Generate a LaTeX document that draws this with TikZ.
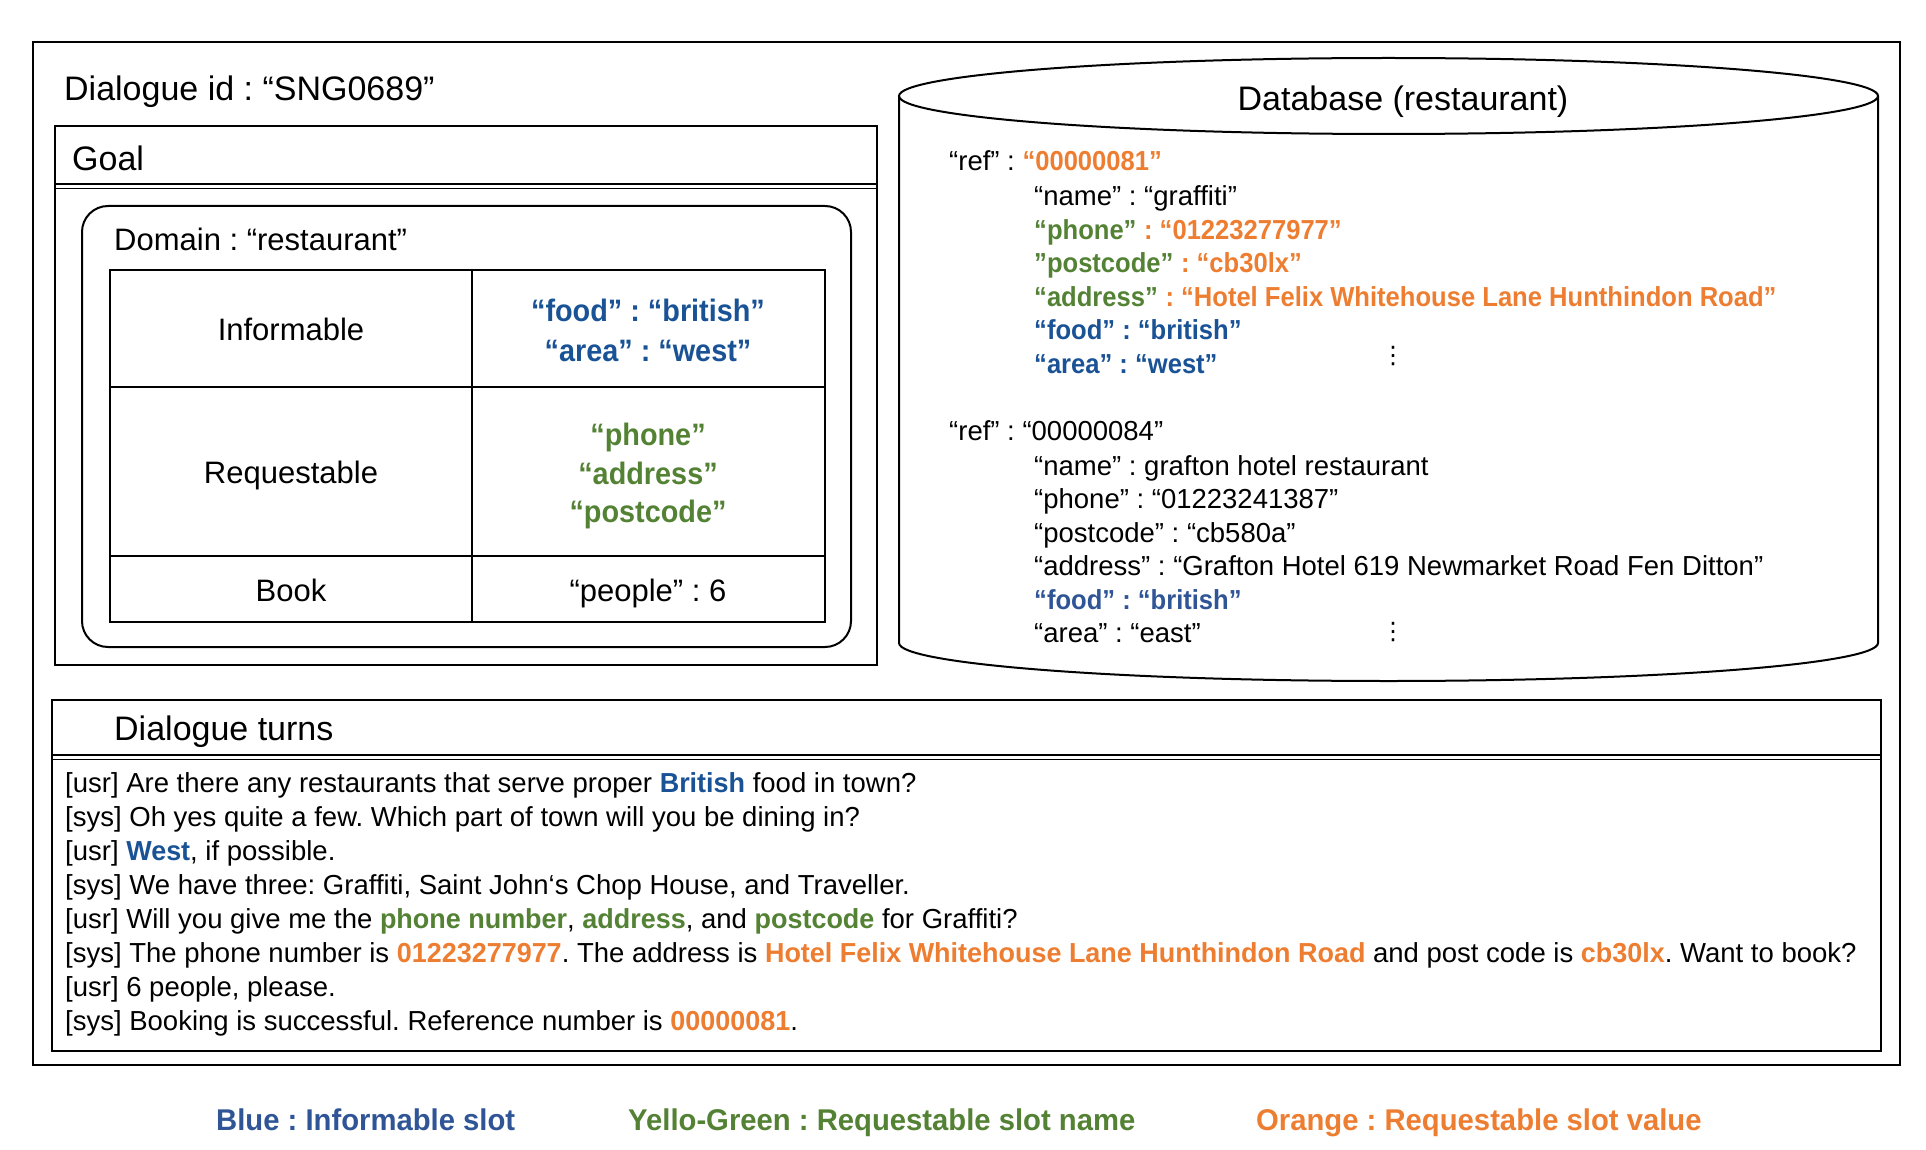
\documentclass[tikz,border=0pt]{standalone}
\usepackage{fontspec}
\setmainfont{Liberation Sans}[BoldFeatures={FakeStretch=0.93}]
\newfontfamily\turnfont{Liberation Sans}[FakeStretch=0.98]
\newfontfamily\legendfont{Liberation Sans}[FakeStretch=0.975]
\newfontfamily\dejavu{DejaVu Sans}
\definecolor{iblue}{HTML}{1A5296}
\definecolor{iblueb}{HTML}{2F5597}
\definecolor{rgreen}{HTML}{548235}
\definecolor{rorange}{HTML}{ED7D31}
\newcommand{\IB}[1]{\textcolor{iblue}{\textbf{#1}}}
\newcommand{\IBB}[1]{\textcolor{iblueb}{\textbf{#1}}}
\newcommand{\RG}[1]{\textcolor{rgreen}{\textbf{#1}}}
\newcommand{\RO}[1]{\textcolor{rorange}{\textbf{#1}}}
\newcommand{\TB}[1]{\textcolor{iblue}{\turnfont\bfseries #1}}
\newcommand{\TG}[1]{\textcolor{rgreen}{\turnfont\bfseries #1}}
\newcommand{\TO}[1]{\textcolor{rorange}{\turnfont\bfseries #1}}
\frenchspacing
\begin{document}
\begin{tikzpicture}[x=1pt,y=-1pt,
  frame/.style={draw, line width=2pt},
  thin/.style={draw, line width=1.6pt},
  big/.style={inner sep=0pt, anchor=west, text height=24pt, text depth=0pt, font=\fontsize{34}{40}\selectfont},
  mid/.style={inner sep=0pt, text height=22pt, text depth=0pt, font=\fontsize{31}{38}\selectfont},
  body/.style={inner sep=0pt, anchor=west, text height=19.5pt, text depth=0pt, font=\fontsize{27.5}{34}\selectfont},
  legend/.style={inner sep=0pt, anchor=west, text height=21.5pt, text depth=0pt, font=\legendfont\fontsize{30}{36}\selectfont\bfseries},
  dots/.style={inner sep=0pt, font=\dejavu\fontsize{24}{28}\selectfont}]
\useasboundingbox (0,0) rectangle (1926,1150);

% outer frame
\path[frame] (33,42) rectangle (1900,1065);

\node[big] (dlgid) at (64,89) {Dialogue id : “SNG0689”};

% Goal box
\path[frame] (55,126) rectangle (877,665);
\path[thin] (55,184) -- (877,184) (55,188.5) -- (877,188.5);
\node[big] (goal) at (72,159) {Goal};
\path[frame, rounded corners=26pt] (82,206) rectangle (851,647);
\node[mid, anchor=west] (domain) at (114,240) {Domain : “restaurant”};

% table
\path[frame] (110,270) rectangle (825,622);
\path[frame] (472,270) -- (472,622);
\path[frame] (110,387) -- (825,387) (110,556) -- (825,556);
\node[mid] (inf) at (291,329) {Informable};
\node[mid] (inf1) at (648,310) {\IB{“food” : “british”}};
\node[mid] (inf2) at (648,350) {\IB{“area” : “west”}};
\node[mid] (req) at (291,472) {Requestable};
\node[mid] (req1) at (648,434) {\RG{“phone”}};
\node[mid] (req2) at (648,473) {\RG{“address”}};
\node[mid] (req3) at (648,511) {\RG{“postcode”}};
\node[mid] (book) at (291,590) {Book};
\node[mid] (book1) at (648,590) {“people” : 6};

% database cylinder
\path[frame] (1388.5,96) ellipse [x radius=489.5pt, y radius=38pt];
\path[frame] (899,96) -- (899,643) arc[start angle=180, end angle=360, x radius=489.5pt, y radius=38pt] -- (1878,96);
\node[big, anchor=center] (dbtitle) at (1403,99) {Database (restaurant)};

\node[body] (r1) at (949,161) {“ref” : \RO{“00000081”}};
\node[body] (r1a) at (1034,196) {“name” : “graffiti”};
\node[body] (r1b) at (1034,230) {\RG{“phone”} \RO{: “01223277977”}};
\node[body] (r1c) at (1034,263) {\RG{”postcode”} \RO{: “cb30lx”}};
\node[body] (r1d) at (1034,297) {\RG{“address”} \RO{: “Hotel Felix Whitehouse Lane Hunthindon Road”}};
\node[body] (r1e) at (1034,330) {\IB{“food” : “british”}};
\node[body] (r1f) at (1034,364) {\IB{“area” : “west”}};
\node[dots] (d1) at (1393,356) {⋮};

\node[body] (r2) at (949,431) {“ref” : “00000084”};
\node[body] (r2a) at (1034,466) {“name” : grafton hotel restaurant};
\node[body] (r2b) at (1034,499) {“phone” : “01223241387”};
\node[body] (r2c) at (1034,533) {“postcode” : “cb580a”};
\node[body] (r2d) at (1034,566) {“address” : “Grafton Hotel 619 Newmarket Road Fen Ditton”};
\node[body] (r2e) at (1034,600) {\IBB{“food” : “british”}};
\node[body] (r2f) at (1034,633) {“area” : “east”};
\node[dots] (d2) at (1393,632) {⋮};

% Dialogue turns box
\path[frame] (52,700) rectangle (1881,1051);
\path[thin] (52,755) -- (1881,755) (52,759.5) -- (1881,759.5);
\node[big] (turns) at (114,728) {Dialogue turns};

\node[body] (t1) at (65,783) {[usr] Are there any restaurants that serve proper \TB{British} food in town?};
\node[body] (t2) at (65,817) {[sys] Oh yes quite a few. Which part of town will you be dining in?};
\node[body] (t3) at (65,851) {[usr] \TB{West}, if possible.};
\node[body] (t4) at (65,885) {[sys] We have three: Graffiti, Saint John‘s Chop House, and Traveller.};
\node[body] (t5) at (65,919) {[usr] Will you give me the \TG{phone number}, \TG{address}, and \TG{postcode} for Graffiti?};
\node[body] (t6) at (65,953) {[sys] The phone number is \TO{01223277977}. The address is \TO{Hotel Felix Whitehouse Lane Hunthindon Road} and post code is \TO{cb30lx}. Want to book?};
\node[body] (t7) at (65,987) {[usr] 6 people, please.};
\node[body] (t8) at (65,1021) {[sys] Booking is successful. Reference number is \TO{00000081}.};

% legend
\node[legend, text=iblueb] (lg1) at (216,1120) {Blue : Informable slot};
\node[legend, text=rgreen] (lg2) at (628,1120) {Yello-Green : Requestable slot name};
\node[legend, text=rorange] (lg3) at (1256,1120) {Orange : Requestable slot value};
\end{tikzpicture}
\end{document}
